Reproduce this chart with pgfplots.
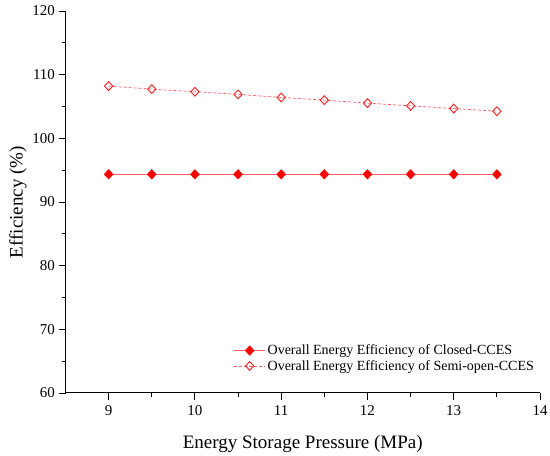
\documentclass[border=0pt]{standalone}
\usepackage{fontspec}
\setmainfont{Liberation Serif}
\usepackage{pgfplots}
\pgfplotsset{compat=1.18}
\definecolor{lred}{RGB}{255,90,100}
\begin{document}
\begin{tikzpicture}
\begin{axis}[
  name=ax,
  scale only axis,
  width=474.5pt, height=382pt,
  xmin=8.5, xmax=14, ymin=60, ymax=120,
  xtick={9,10,11,12,13,14},
  ytick={60,70,80,90,100,110,120},
  minor x tick num=1, minor y tick num=1,
  axis x line*=bottom, axis y line*=left,
  axis line style={line width=1pt,-},
  tick align=outside,
  major tick length=7pt, minor tick length=4pt,
  every tick/.style={black, line width=0.9pt},
  /pgf/number format/assume math mode=true,
  ticklabel style={font=\fontsize{15}{17}\selectfont},
  xticklabel style={yshift=-2pt},
  xlabel={Energy Storage Pressure (MPa)},
  ylabel={Efficiency (\%)},
  label style={font=\fontsize{19}{22}\selectfont},
  xlabel style={yshift=-13pt},
  ylabel style={yshift=-1pt},
  legend style={draw=none, fill=none, at={(0.998,0.045)}, anchor=south east,
    font=\fontsize{14}{16}\selectfont, row sep=0pt},
  legend cell align=left,
  legend image code/.code={\draw[mark repeat=2,mark phase=2] plot coordinates {(0cm,0cm) (0.55cm,0cm) (1.1cm,0cm)};},
]
\addplot[lred, line width=0.7pt, mark=diamond*, mark size=4.6pt, mark options={solid, draw=red, fill=red, xscale=1.25}]
coordinates {(9,94.35) (9.5,94.35) (10,94.35) (10.5,94.35) (11,94.35) (11.5,94.35) (12,94.35) (12.5,94.35) (13,94.35) (13.5,94.35)};
\addlegendentry{Overall Energy Efficiency of Closed-CCES}
\addplot[lred, line width=0.7pt, densely dashed, mark=diamond, mark size=4.4pt, mark options={solid, draw=red!85!pink, fill=white, line width=0.9pt, xscale=1.25}]
coordinates {(9,108.2) (9.5,107.73) (10,107.32) (10.5,106.9) (11,106.42) (11.5,106.0) (12,105.53) (12.5,105.1) (13,104.68) (13.5,104.26)};
\addlegendentry{Overall Energy Efficiency of Semi-open-CCES}
\end{axis}
\pgfresetboundingbox
\path[use as bounding box] ([xshift=-65.5pt,yshift=-63pt]ax.south west) rectangle ([xshift=10pt,yshift=11pt]ax.north east);
\end{tikzpicture}
\end{document}
